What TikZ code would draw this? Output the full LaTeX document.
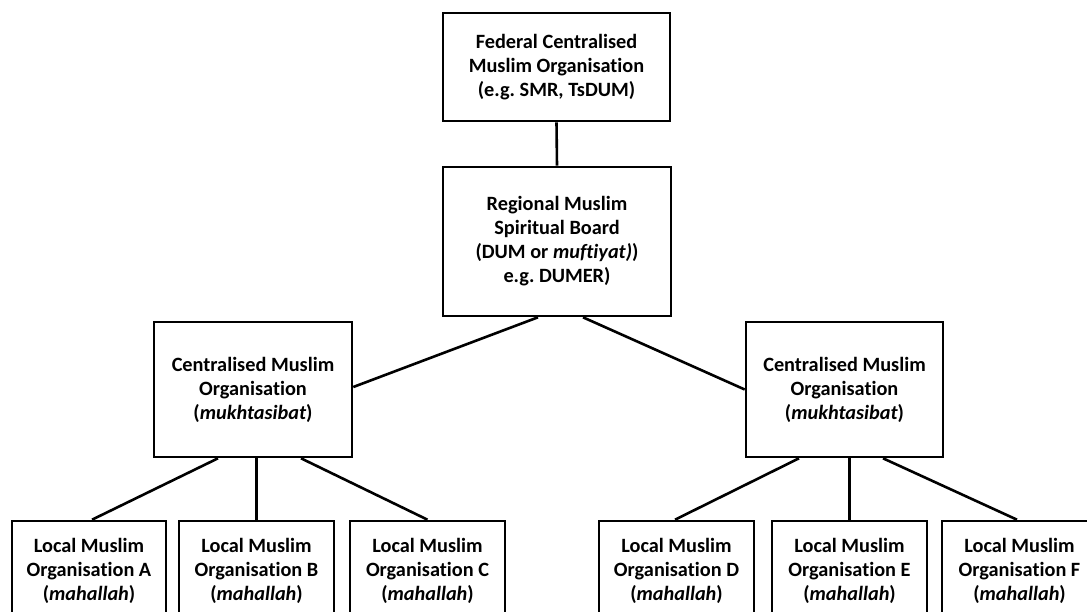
\documentclass[tikz,border=0pt]{standalone}
\usepackage{fontspec}
\setmainfont{Carlito}[RawFeature={-liga;-dlig;-clig}]
\usetikzlibrary{calc}
\begin{document}
\frenchspacing
\begin{tikzpicture}[x=1pt,y=-1pt,
  box/.style={draw=black,line width=2.6pt,fill=white,align=center,inner sep=0pt,
    font=\bfseries\fontsize{20.3}{24}\selectfont},
  link/.style={draw=black,line width=2.6pt}]
\useasboundingbox (0,0) rectangle (1087,612);
\clip (0,0) rectangle (1087,612);
\fill[white] (0,0) rectangle (1087,612);
\node[box,minimum width=227pt,minimum height=108pt] (top) at (556.5,67) {Federal Centralised\\Muslim Organisation\\(e.g. SMR, TsDUM)};
\node[box,minimum width=228pt,minimum height=149pt] (reg) at (557,241.5) {Regional Muslim\\Spiritual Board\\(DUM or \textit{muftiyat)})\\e.g. DUMER)};
\node[box,minimum width=198pt,minimum height=135pt] (lc) at (253,389.5) {Centralised Muslim\\Organisation\\(\textit{mukhtasibat})};
\node[box,minimum width=197pt,minimum height=135pt] (rc) at (844.5,389.5) {Centralised Muslim\\Organisation\\(\textit{mukhtasibat})};
\node[box,minimum width=154pt,minimum height=100pt] (A) at (89,571) {Local Muslim\\Organisation A\\(\textit{mahallah})};
\node[box,minimum width=155pt,minimum height=100pt] (B) at (256.5,571) {Local Muslim\\Organisation B\\(\textit{mahallah})};
\node[box,minimum width=155pt,minimum height=100pt] (C) at (427.5,571) {Local Muslim\\Organisation C\\(\textit{mahallah})};
\node[box,minimum width=155pt,minimum height=100pt] (D) at (676.5,571) {Local Muslim\\Organisation D\\(\textit{mahallah})};
\node[box,minimum width=155pt,minimum height=100pt] (E) at (849.5,571) {Local Muslim\\Organisation E\\(\textit{mahallah})};
\node[box,minimum width=155pt,minimum height=100pt] (F) at (1019.5,571) {Local Muslim\\Organisation F\\(\textit{mahallah})};
\draw[link] (top.south) -- (reg.north);
\draw[link] ($(reg.south)+(-19,0)$) -- ($(lc.east)+(0,-2.5)$);
\draw[link] ($(reg.south)+(26,0)$) -- (rc.west);
\draw[link] ($(lc.south)+(-35,0)$) -- ($(A.north)+(3,0)$);
\draw[link] (B.north |- lc.south) -- (B.north);
\draw[link] ($(lc.south)+(48,0)$) -- (C.north);
\draw[link] ($(rc.south)+(-45.5,0)$) -- ($(D.north)+(-1.5,0)$);
\draw[link] (E.north |- rc.south) -- (E.north);
\draw[link] ($(rc.south)+(38.5,0)$) -- ($(F.north)+(-2.5,0)$);
\end{tikzpicture}
\end{document}
